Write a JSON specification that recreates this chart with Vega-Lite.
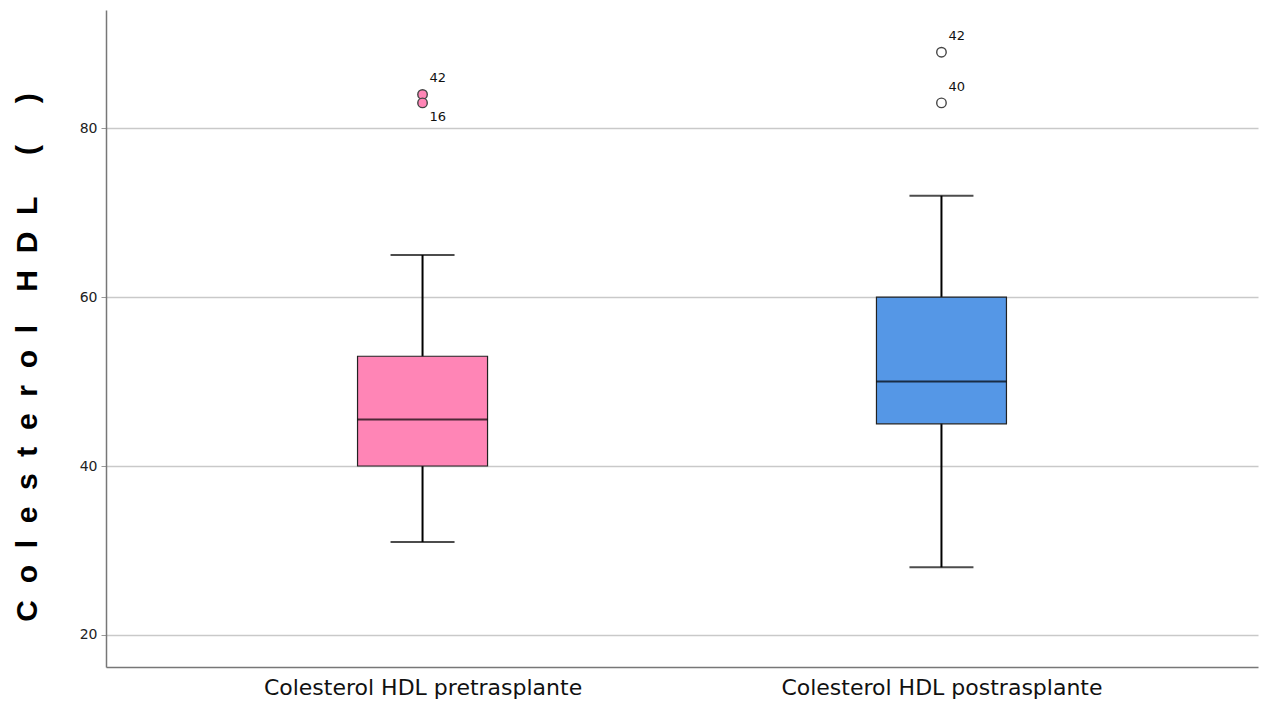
{
  "$schema": "https://vega.github.io/schema/vega-lite/v6.json",
  "width": 1152,
  "height": 657,
  "autosize": {"type": "none"},
  "padding": {"left": 106, "top": 10, "right": 10, "bottom": 39},
  "background": "white",
  "config": {"view": {"stroke": null}},
  "datasets": {
    "cajas": [
      {"grupo": "Colesterol HDL pretrasplante", "min": 31, "q1": 40, "mediana": 45.5, "q3": 53, "max": 65},
      {"grupo": "Colesterol HDL postrasplante", "min": 28, "q1": 45, "mediana": 50, "q3": 60, "max": 72}
    ],
    "atipicos": [
      {"grupo": "Colesterol HDL pretrasplante", "valor": 84, "caso": "42", "lado": "arriba"},
      {"grupo": "Colesterol HDL pretrasplante", "valor": 83, "caso": "16", "lado": "abajo"},
      {"grupo": "Colesterol HDL postrasplante", "valor": 89, "caso": "42", "lado": "arriba"},
      {"grupo": "Colesterol HDL postrasplante", "valor": 83, "caso": "40", "lado": "arriba"}
    ]
  },
  "encoding": {
    "x": {
      "field": "grupo",
      "type": "nominal",
      "sort": ["Colesterol HDL pretrasplante", "Colesterol HDL postrasplante"],
      "scale": {"type": "point", "padding": 0.61},
      "axis": {
        "title": null,
        "labelAngle": 0,
        "labelLimit": 0,
        "ticks": false,
        "labelFont": "DejaVu Sans",
        "labelFontSize": 22,
        "labelColor": "#111",
        "labelPadding": 10,
        "domainColor": "#777",
        "domainWidth": 1.5,
        "grid": false
      }
    }
  },
  "layer": [
    {
      "data": {"name": "cajas"},
      "mark": {"type": "rule", "color": "black", "strokeWidth": 2},
      "encoding": {
        "y": {
          "field": "min",
          "type": "quantitative",
          "scale": {"domain": [16.2, 94], "nice": false, "zero": false},
          "axis": {
            "values": [20, 40, 60, 80],
            "title": "C\u00a0\u00a0o\u00a0\u00a0l\u00a0\u00a0e\u00a0\u00a0s\u00a0\u00a0t\u00a0\u00a0e\u00a0\u00a0r\u00a0\u00a0o\u00a0\u00a0l\u00a0\u00a0\u00a0\u00a0H\u00a0\u00a0D\u00a0\u00a0L\u00a0\u00a0\u00a0\u00a0\u00a0(\u00a0\u00a0\u00a0\u00a0\u00a0)",
            "titleFont": "Liberation Sans",
            "titleFontSize": 30,
            "titleFontWeight": "bold",
            "titleColor": "#000",
            "titlePadding": 37,
            "titleY": 347,
            "labelFont": "DejaVu Sans",
            "labelFontSize": 14,
            "labelColor": "#222",
            "labelPadding": 4,
            "tickSize": 5,
            "tickColor": "#999",
            "domainColor": "#777",
            "domainWidth": 1.5,
            "grid": true,
            "gridColor": "#c9c9c9",
            "gridWidth": 1.5
          }
        },
        "y2": {"field": "max"}
      }
    },
    {
      "data": {"name": "cajas"},
      "mark": {"type": "tick", "color": "black", "thickness": 2, "size": 64, "orient": "horizontal"},
      "encoding": {"y": {"field": "min", "type": "quantitative"}}
    },
    {
      "data": {"name": "cajas"},
      "mark": {"type": "tick", "color": "black", "thickness": 2, "size": 64, "orient": "horizontal"},
      "encoding": {"y": {"field": "max", "type": "quantitative"}}
    },
    {
      "data": {"name": "cajas"},
      "mark": {"type": "bar", "size": 130, "stroke": "#222", "strokeWidth": 1.2},
      "encoding": {
        "y": {"field": "q1", "type": "quantitative"},
        "y2": {"field": "q3"},
        "fill": {
          "field": "grupo",
          "type": "nominal",
          "scale": {"domain": ["Colesterol HDL pretrasplante", "Colesterol HDL postrasplante"], "range": ["#ff85b6", "#5597e6"]},
          "legend": null
        }
      }
    },
    {
      "data": {"name": "cajas"},
      "mark": {"type": "tick", "color": "black", "thickness": 2, "size": 130, "orient": "horizontal"},
      "encoding": {"y": {"field": "mediana", "type": "quantitative"}}
    },
    {
      "data": {"name": "atipicos"},
      "transform": [{"filter": "datum.grupo == 'Colesterol HDL pretrasplante'"}],
      "mark": {"type": "point", "shape": "circle", "size": 90, "strokeWidth": 1.4, "stroke": "#444", "fill": "#ff85b6", "fillOpacity": 1, "opacity": 1},
      "encoding": {
        "y": {"field": "valor", "type": "quantitative"}
      }
    },
    {
      "data": {"name": "atipicos"},
      "transform": [{"filter": "datum.grupo == 'Colesterol HDL postrasplante'"}],
      "mark": {"type": "point", "shape": "circle", "size": 90, "strokeWidth": 1.4, "stroke": "#444", "fill": "white", "fillOpacity": 1, "opacity": 1},
      "encoding": {
        "y": {"field": "valor", "type": "quantitative"}
      }
    },
    {
      "data": {"name": "atipicos"},
      "transform": [{"filter": "datum.lado == 'arriba'"}],
      "mark": {"type": "text", "align": "left", "dx": 7, "dy": -16, "font": "DejaVu Sans", "fontSize": 13, "color": "#111"},
      "encoding": {
        "y": {"field": "valor", "type": "quantitative"},
        "text": {"field": "caso"}
      }
    },
    {
      "data": {"name": "atipicos"},
      "transform": [{"filter": "datum.lado == 'abajo'"}],
      "mark": {"type": "text", "align": "left", "dx": 7, "dy": 14, "font": "DejaVu Sans", "fontSize": 13, "color": "#111"},
      "encoding": {
        "y": {"field": "valor", "type": "quantitative"},
        "text": {"field": "caso"}
      }
    }
  ]
}
